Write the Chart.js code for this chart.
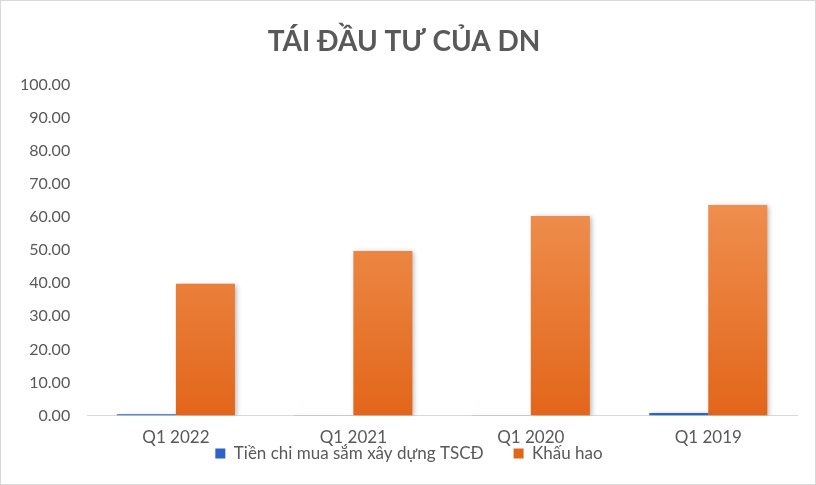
<!DOCTYPE html>
<html>
<head>
<meta charset="utf-8">
<script src="https://cdn.jsdelivr.net/npm/chart.js@4/dist/chart.umd.min.js"></script>
<style>
  html, body { margin: 0; padding: 0; background: #fff; }
  #wrap { width: 814px; height: 483px; border: 1px solid #d9d9d9; }
</style>
</head>
<body>
<div id="wrap"><canvas id="taiDauTu"></canvas></div>
<script>
const categories = ['Q1 2022', 'Q1 2021', 'Q1 2020', 'Q1 2019'];
const tienChi = [0.4, 0.1, 0.1, 0.8];
const khauHao = [39.8, 49.7, 60.3, 63.6];

const grad = (ctx, top, bottom) => {
    const { chart } = ctx;
    const area = chart.chartArea;
    if (!area) return bottom;
    const g = chart.ctx.createLinearGradient(0, area.top, 0, area.bottom);
    g.addColorStop(0, top);
    g.addColorStop(1, bottom);
    return g;
};

// soft shadow behind the bars, like the office chart
const barShadow = {
    id: 'barShadow',
    beforeDatasetsDraw(chart) {
        const c = chart.ctx;
        c.save();
        c.shadowColor = 'rgba(0,0,0,0.3)';
        c.shadowBlur = 5;
        c.shadowOffsetX = 2;
        c.shadowOffsetY = 1;
    },
    afterDatasetsDraw(chart) {
        chart.ctx.restore();
    }
};

// the legend sits tight under the x labels, nudge it up
const LEGEND_SHIFT = 37;
const legendUp = {
    id: 'legendUp',
    afterUpdate(chart) {
        const lg = chart.legend;
        if (!lg) return;
        lg.top -= LEGEND_SHIFT;
        lg.bottom -= LEGEND_SHIFT;
        lg.left += 5;
        lg.right += 5;
    }
};

const textColor = '#595959';
const font = 'Lato, "Open Sans", sans-serif';

new Chart(document.getElementById('taiDauTu'), {
    type: 'bar',
    data: {
        labels: categories,
        datasets: [{
            label: 'Tiền chi mua sắm xây dựng TSCĐ',
            data: tienChi,
            backgroundColor: ctx => grad(ctx, '#5b8ee0', '#2f63c4'),
        }, {
            label: 'Khấu hao',
            data: khauHao,
            backgroundColor: ctx => grad(ctx, '#f6a56c', '#e2661a'),
        }],
    },
    plugins: [barShadow, legendUp],
    options: {
        responsive: true,
        maintainAspectRatio: false,
        animation: false,
        layout: { padding: { left: 10, right: 18, top: 8, bottom: -25 } },
        datasets: { bar: { categoryPercentage: 0.665, barPercentage: 1 } },
        plugins: {
            title: {
                display: true,
                text: 'TÁI ĐẦU TƯ CỦA DN',
                color: textColor,
                font: { family: font, size: 28, weight: 'bold' },
                padding: { top: 16, bottom: 26 },
            },
            legend: {
                position: 'bottom',
                labels: {
                    color: textColor,
                    font: { family: font, size: 17 },
                    boxWidth: 10,
                    boxHeight: 10,
                    padding: 30,
                },
            },
            tooltip: { enabled: false },
        },
        scales: {
            x: {
                grid: { display: false },
                border: { color: '#d9d9d9' },
                ticks: { color: textColor, font: { family: font, size: 17 }, padding: 4 },
            },
            y: {
                min: 0,
                max: 100,
                grid: { display: false },
                border: { display: false },
                ticks: {
                    stepSize: 10,
                    color: textColor,
                    font: { family: font, size: 16 },
                    padding: 9,
                    callback: v => Number(v).toFixed(2),
                },
            },
        },
    },
});
</script>
</body>
</html>
